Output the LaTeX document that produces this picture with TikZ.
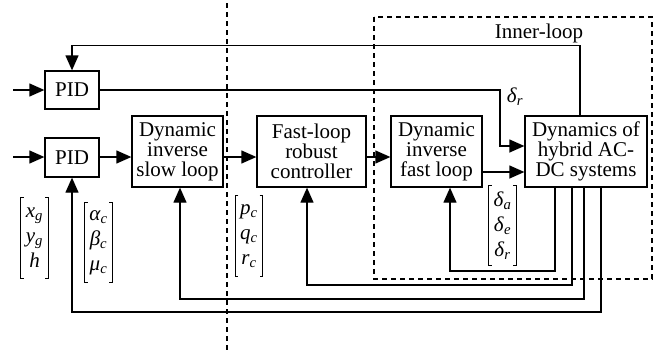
\documentclass[tikz,border=0pt]{standalone}
\usepackage{fontspec}
\setmainfont{Liberation Serif}
\usetikzlibrary{arrows.meta}
\newcommand\vsub[2]{\textit{#1}\textsubscript{\textit{#2}}}
\begin{document}
\begin{tikzpicture}[x=1pt,y=-1pt,
  blk/.style={draw, line width=1.3pt, inner sep=0pt, align=center,
    font=\fontsize{21}{20}\selectfont},
  arr/.style={-{Triangle[length=15pt,width=13pt]}, line width=1.3pt},
  dsh/.style={line width=1.2pt, dash pattern=on 5pt off 4pt},
  vecn/.style={inner sep=0pt, minimum width=27pt, minimum height=80pt,
    align=center, font=\fontsize{21}{25}\selectfont},
  brk/.style={line width=0.9pt},
  lbl/.style={inner sep=0pt, font=\fontsize{21}{21}\selectfont}]
\useasboundingbox (0,0) rectangle (656,356);

% separator and inner-loop frame
\draw[dsh] (227,3) -- (227,352);
\draw[dsh] (374,17) rectangle (652,279);
\node[lbl] (innerlbl) at (539,33) {Inner-loop};

% blocks
\node[blk, minimum width=54pt, minimum height=38pt] (pidt) at (72,90) {PID};
\node[blk, minimum width=54pt, minimum height=39pt] (pidb) at (72,157.5) {PID};
\node[blk, minimum width=91pt, minimum height=71pt] (slow) at (177.5,151.5) {Dynamic\\inverse\\slow loop};
\node[blk, minimum width=109pt, minimum height=71pt] (fast) at (311.5,151.5) {Fast-loop\\robust\\controller};
\node[blk, minimum width=91pt, minimum height=71pt] (dfast) at (436.5,151.5) {Dynamic\\inverse\\fast loop};
\node[blk, minimum width=122pt, minimum height=71pt] (dyn) at (586,151.5) {Dynamics of\\hybrid AC-\\DC systems};

% inputs
\coordinate (in1) at (13,90);
\coordinate (in2) at (13,157);
\draw[arr] (in1) -- (pidt.west);
\draw[arr] (in2) -- (pidb.west |- in2);

% forward path
\draw[arr] (pidb.east |- in2) -- (slow.west |- in2);
\draw[arr] (slow.east |- in2) -- (fast.west |- in2);
\draw[arr] (fast.east |- in2) -- (dfast.west |- in2);
\draw[arr] ([yshift=-20.5pt]dfast.east) -- ([yshift=-20.5pt]dyn.west);
\coordinate (dr) at (500,146);
\draw[arr] (pidt.east) -| (dr) -- (dyn.west |- dr);
\node[lbl] (drlbl) at (515,97) {\vsub{δ}{r}};

% feedback paths
\draw[arr] ([xshift=-6pt]dyn.north) -- ++(0,-70) -| (pidt.north);
\draw[arr] ([xshift=-31pt]dyn.south) |- (450,271) -- ([xshift=13.5pt]dfast.south);
\draw[arr] ([xshift=-14pt]dyn.south) |- (307,285) -- ([xshift=-4.5pt]fast.south);
\draw[arr] ([xshift=-2pt]dyn.south) |- (180,299) -- ([xshift=2.5pt]slow.south);
\draw[arr] ([xshift=15pt]dyn.south) |- (72,312) -- (pidb.south);

% signal vectors
\node[vecn] (vx) at (34.5,238) {\vsub{x}{g}\\\vsub{y}{g}\\\textit{h}};
\node[vecn] (va) at (98.5,242.5) {\vsub{α}{c}\\\vsub{β}{c}\\\vsub{μ}{c}};
\node[vecn] (vp) at (249,236) {\vsub{p}{c}\\\vsub{q}{c}\\\vsub{r}{c}};
\node[vecn] (vd) at (502.5,225.5) {\vsub{δ}{a}\\\vsub{δ}{e}\\\vsub{δ}{r}};
\foreach \v in {vx,va,vp,vd} {
  \draw[brk] ([xshift=3pt]\v.north west) -- (\v.north west) -- (\v.south west) -- ([xshift=3pt]\v.south west);
  \draw[brk] ([xshift=-3pt]\v.north east) -- (\v.north east) -- (\v.south east) -- ([xshift=-3pt]\v.south east);
}
\end{tikzpicture}
\end{document}
